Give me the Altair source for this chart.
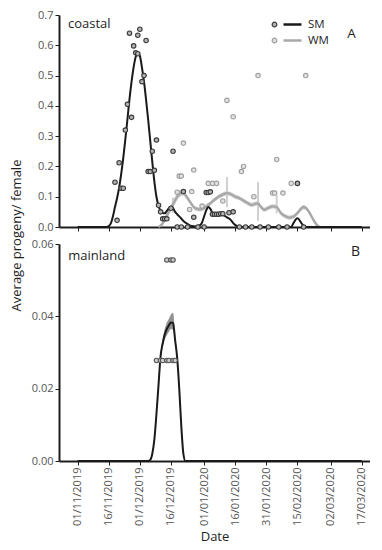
import altair as alt
import pandas as pd

FONT = "Open Sans"

tick_labels = ["01/11/2019", "16/11/2019", "01/12/2019", "16/12/2019", "01/01/2020",
               "16/01/2020", "31/01/2020", "15/02/2020", "02/03/2020", "17/03/2020"]
x_start = "23/10/2019"
x_end = "21/03/2020"

panel_names = ["coastal", "mainland"]
panel_letters = ["A", "B"]
series_names = ["SM", "WM"]
point_series_names = ["SM observed", "WM observed"]
y_title = "Average progeny/ female"
x_title = "Date"
top_y_ticks = [0.0, 0.1, 0.2, 0.3, 0.4, 0.5, 0.6, 0.7]
bottom_y_ticks = [0.0, 0.02, 0.04, 0.06]

# ---- coastal: SM observations
c_sm_dates = ["2019-11-19", "2019-11-20", "2019-11-21", "2019-11-22", "2019-11-23", "2019-11-24",
              "2019-11-25", "2019-11-26", "2019-11-27", "2019-11-28", "2019-11-29", "2019-11-30",
              "2019-11-30", "2019-12-01", "2019-12-02", "2019-12-03", "2019-12-04", "2019-12-05",
              "2019-12-06", "2019-12-07", "2019-12-08", "2019-12-09", "2019-12-10", "2019-12-11",
              "2019-12-12", "2019-12-13", "2019-12-14", "2019-12-16", "2019-12-17", "2019-12-22",
              "2019-12-27", "2020-01-02", "2020-01-03", "2020-01-04", "2020-01-05", "2020-01-06",
              "2020-01-07", "2020-01-08", "2020-01-09", "2020-01-10", "2020-01-13", "2020-01-15",
              "2020-02-15"]
c_sm_vals = [0.148, 0.022, 0.212, 0.128, 0.128, 0.320,
             0.405, 0.640, 0.362, 0.598, 0.575, 0.633,
             0.572, 0.653, 0.480, 0.500, 0.616, 0.183,
             0.183, 0.250, 0.187, 0.287, 0.072, 0.050,
             0.027, 0.027, 0.027, 0.062, 0.250, 0.117,
             0.032, 0.114, 0.114, 0.116, 0.042, 0.042,
             0.042, 0.042, 0.044, 0.044, 0.047, 0.050,
             0.144]
c_sm_zero_dates = ["2019-12-19", "2019-12-21", "2019-12-24", "2019-12-29", "2020-01-01",
                   "2020-01-18", "2020-01-21", "2020-01-24", "2020-01-28", "2020-02-01",
                   "2020-02-06", "2020-02-10", "2020-02-18"]

# ---- coastal: WM observations
c_wm_dates = ["2019-12-19", "2019-12-20", "2019-12-21", "2019-12-22", "2019-12-25", "2019-12-26",
              "2019-12-27", "2019-12-31", "2020-01-03", "2020-01-05", "2020-01-07", "2020-01-10",
              "2020-01-12", "2020-01-15", "2020-01-19", "2020-01-20", "2020-01-25", "2020-01-27",
              "2020-02-03", "2020-02-04", "2020-02-05", "2020-02-08", "2020-02-12", "2020-02-19"]
c_wm_vals = [0.115, 0.168, 0.168, 0.277, 0.058, 0.117,
             0.188, 0.069, 0.144, 0.144, 0.144, 0.086,
             0.418, 0.364, 0.183, 0.200, 0.100, 0.500,
             0.112, 0.112, 0.223, 0.112, 0.144, 0.500]

# ---- coastal: SM fitted curve
c_sm_curve_dates = ["2019-11-01", "2019-11-15", "2019-11-16", "2019-11-17", "2019-11-18", "2019-11-19",
                    "2019-11-20", "2019-11-21", "2019-11-22", "2019-11-23", "2019-11-24", "2019-11-25",
                    "2019-11-26", "2019-11-27", "2019-11-28", "2019-11-29", "2019-11-30", "2019-12-01",
                    "2019-12-02", "2019-12-03", "2019-12-04", "2019-12-05", "2019-12-06", "2019-12-07",
                    "2019-12-08", "2019-12-09", "2019-12-10", "2019-12-11", "2019-12-12", "2019-12-13",
                    "2019-12-14", "2019-12-15", "2019-12-16", "2019-12-17", "2019-12-18", "2019-12-19",
                    "2019-12-21", "2019-12-22", "2019-12-24", "2019-12-26", "2019-12-28", "2019-12-30",
                    "2019-12-31", "2020-01-01", "2020-01-02", "2020-01-03", "2020-01-04", "2020-01-05",
                    "2020-01-06", "2020-01-08", "2020-01-10", "2020-01-12", "2020-01-14", "2020-01-15",
                    "2020-01-17", "2020-01-19", "2020-02-12", "2020-02-13", "2020-02-15", "2020-02-17",
                    "2020-02-19", "2020-03-17"]
c_sm_curve_vals = [0, 0, 0.003, 0.012, 0.035, 0.066,
                   0.095, 0.13, 0.175, 0.228, 0.29, 0.355,
                   0.422, 0.48, 0.528, 0.562, 0.574, 0.565,
                   0.527, 0.48, 0.42, 0.355, 0.285, 0.215,
                   0.15, 0.1, 0.07, 0.053, 0.046, 0.045,
                   0.053, 0.062, 0.067, 0.062, 0.05, 0.042,
                   0.028, 0.02, 0.01, 0.003, 0.002, 0.006,
                   0.015, 0.035, 0.055, 0.066, 0.06, 0.047,
                   0.044, 0.043, 0.04, 0.032, 0.022, 0.013,
                   0.003, 0, 0, 0.012, 0.029, 0.012,
                   0, 0]

# ---- coastal: WM fitted curve and its band
c_wm_curve_dates = ["2019-12-10", "2019-12-12", "2019-12-13", "2019-12-15", "2019-12-17", "2019-12-18",
                    "2019-12-19", "2019-12-21", "2019-12-22", "2019-12-23", "2019-12-24", "2019-12-26",
                    "2019-12-27", "2019-12-29", "2019-12-30", "2020-01-01", "2020-01-02", "2020-01-04",
                    "2020-01-06", "2020-01-08", "2020-01-10", "2020-01-12", "2020-01-14", "2020-01-16",
                    "2020-01-18", "2020-01-20", "2020-01-22", "2020-01-24", "2020-01-26", "2020-01-27",
                    "2020-01-28", "2020-01-30", "2020-02-01", "2020-02-03", "2020-02-05", "2020-02-07",
                    "2020-02-09", "2020-02-11", "2020-02-13", "2020-02-15", "2020-02-17", "2020-02-18",
                    "2020-02-19", "2020-02-21", "2020-02-23", "2020-02-24", "2020-02-25", "2020-02-26"]
c_wm_curve_vals = [0, 0.012, 0.025, 0.05, 0.075, 0.088,
                   0.1, 0.112, 0.112, 0.105, 0.095, 0.075,
                   0.066, 0.059, 0.058, 0.062, 0.068, 0.078,
                   0.09, 0.1, 0.107, 0.112, 0.108, 0.1,
                   0.095, 0.087, 0.079, 0.073, 0.077, 0.078,
                   0.07, 0.057, 0.063, 0.068, 0.066, 0.046,
                   0.036, 0.031, 0.034, 0.046, 0.062, 0.066,
                   0.063, 0.045, 0.02, 0.01, 0.003, 0]
c_wm_band_lo = [0, 0.006, 0.016, 0.04, 0.063, 0.076,
                0.088, 0.102, 0.104, 0.098, 0.088, 0.068,
                0.059, 0.052, 0.051, 0.055, 0.061, 0.071,
                0.083, 0.093, 0.1, 0.105, 0.101, 0.093,
                0.088, 0.08, 0.072, 0.066, 0.07, 0.071,
                0.063, 0.05, 0.056, 0.061, 0.059, 0.039,
                0.029, 0.024, 0.027, 0.039, 0.055, 0.059,
                0.056, 0.038, 0.013, 0.004, 0, 0]
c_wm_band_hi = [0.002, 0.018, 0.034, 0.06, 0.087, 0.1,
                0.112, 0.122, 0.12, 0.112, 0.102, 0.082,
                0.073, 0.066, 0.065, 0.069, 0.075, 0.085,
                0.097, 0.107, 0.114, 0.119, 0.115, 0.107,
                0.102, 0.094, 0.086, 0.08, 0.084, 0.085,
                0.077, 0.064, 0.07, 0.075, 0.073, 0.053,
                0.043, 0.038, 0.041, 0.053, 0.069, 0.073,
                0.07, 0.052, 0.027, 0.017, 0.008, 0.002]
c_wm_spike_dates = ["2019-12-17", "2020-01-12", "2020-01-27", "2020-02-05"]
c_wm_spike_lo = [0.047, 0.065, 0.02, 0.045]
c_wm_spike_hi = [0.097, 0.165, 0.148, 0.105]

# ---- mainland: SM observations, curve, band
m_sm_dates = ["2019-12-14", "2019-12-16", "2019-12-17", "2019-12-09", "2019-12-11",
              "2019-12-12", "2019-12-14", "2019-12-15", "2019-12-17", "2019-12-18"]
m_sm_vals = [0.0556, 0.0556, 0.0556, 0.0278, 0.0278,
             0.0278, 0.0278, 0.0278, 0.0278, 0.0278]
m_sm_curve_dates = ["2019-11-01", "2019-12-05", "2019-12-06", "2019-12-07", "2019-12-08", "2019-12-09",
                    "2019-12-10", "2019-12-11", "2019-12-12", "2019-12-13", "2019-12-14", "2019-12-15",
                    "2019-12-16", "2019-12-17", "2019-12-18", "2019-12-19", "2019-12-20", "2019-12-21",
                    "2019-12-22", "2019-12-23", "2020-03-17"]
m_sm_curve_vals = [0, 0, 0.0003, 0.002, 0.006, 0.013,
                   0.021, 0.029, 0.0325, 0.035, 0.0365, 0.0375,
                   0.0383, 0.0382, 0.0335, 0.0285, 0.02, 0.0095,
                   0.002, 0, 0]
m_band_dates = ["2019-12-11", "2019-12-12", "2019-12-13", "2019-12-14",
                "2019-12-15", "2019-12-16", "2019-12-17", "2019-12-18"]
m_band_lo = [0.028, 0.0313, 0.0335, 0.0348, 0.0357, 0.0365, 0.0362, 0.0325]
m_band_hi = [0.030, 0.0337, 0.0365, 0.0382, 0.0393, 0.0405, 0.041, 0.0345]

# ---------------- tables
pts_top = pd.DataFrame({
    "date": pd.to_datetime(c_sm_dates + c_sm_zero_dates + c_wm_dates),
    "value": c_sm_vals + [0.0] * len(c_sm_zero_dates) + c_wm_vals,
    "series": [point_series_names[0]] * (len(c_sm_dates) + len(c_sm_zero_dates))
              + [point_series_names[1]] * len(c_wm_dates),
})
sm_curve_top = pd.DataFrame({"date": pd.to_datetime(c_sm_curve_dates), "value": c_sm_curve_vals,
                             "curve": series_names[0]})
wm_curve_top = pd.DataFrame({"date": pd.to_datetime(c_wm_curve_dates), "value": c_wm_curve_vals,
                             "curve": series_names[1]})
wm_band_top = pd.DataFrame({"date": pd.to_datetime(c_wm_curve_dates), "lo": c_wm_band_lo, "hi": c_wm_band_hi})
wm_spike_top = pd.DataFrame({"date": pd.to_datetime(c_wm_spike_dates), "lo": c_wm_spike_lo, "hi": c_wm_spike_hi})

pts_bot = pd.DataFrame({"date": pd.to_datetime(m_sm_dates), "value": m_sm_vals})
curve_bot = pd.DataFrame({"date": pd.to_datetime(m_sm_curve_dates), "value": m_sm_curve_vals})
band_bot = pd.DataFrame({"date": pd.to_datetime(m_band_dates), "lo": m_band_lo, "hi": m_band_hi})


def to_dt(s):
    d, m, y = s.split("/")
    return alt.DateTime(year=int(y), month=int(m), date=int(d))


tick_vals = [to_dt(s) for s in tick_labels]
x_scale = alt.Scale(domain=[to_dt(x_start), to_dt(x_end)], nice=False)

top_x_axis = alt.Axis(values=tick_vals, labels=False, title=None, grid=False)
bot_x_axis = alt.Axis(values=tick_vals, format="%d/%m/%Y", labelAngle=270, title=x_title,
                      titlePadding=5, grid=False)
top_y_axis = alt.Axis(values=top_y_ticks, format=".1f", title=y_title, titleX=-42.5, titleY=220,
                      titleAngle=270, titleAlign="center", titleBaseline="middle", grid=False)
bot_y_axis = alt.Axis(values=bottom_y_ticks, format=".2f", title=None, grid=False)

ys_top = alt.Scale(domain=[0, 0.7], nice=False)
ys_bot = alt.Scale(domain=[0, 0.06], nice=False)

xt = alt.X("date:T", scale=x_scale, axis=top_x_axis)
xb = alt.X("date:T", scale=x_scale, axis=bot_x_axis)

line_scale = alt.Scale(domain=series_names, range=["#1a1a1a", "#a8a8a8"])
line_legend = alt.Legend(title=None, orient="none", legendX=223, legendY=-1, symbolType="stroke",
                         symbolSize=324, symbolStrokeWidth=2.5, labelOffset=5, rowPadding=-6,
                         padding=0, labelFontSize=11.5, labelColor="#1e1e1e", labelFont=FONT)
pt_legend = alt.Legend(title=None, orient="none", legendX=210, legendY=4, symbolType="circle",
                       symbolSize=22, symbolStrokeWidth=1.2, labelExpr="''", rowPadding=4,
                       padding=0, labelFontSize=11)
stroke_scale = alt.Scale(domain=point_series_names, range=["#3a3a3a", "#a0a0a0"])
fill_scale = alt.Scale(domain=point_series_names, range=["#b4b4b4", "#e2e2e2"])


def text_layer(txt, x, y, size, align="left"):
    return alt.Chart(pd.DataFrame({"t": [txt]})).mark_text(
        align=align, baseline="alphabetic", font=FONT, fontSize=size, color="#1e1e1e"
    ).encode(text="t:N", x=alt.value(x), y=alt.value(y))


band_t = alt.Chart(wm_band_top).mark_area(color="#cfcfcf", opacity=1, interpolate="monotone").encode(
    x=xt, y=alt.Y("lo:Q", scale=ys_top, axis=top_y_axis), y2="hi:Q")
spike_t = alt.Chart(wm_spike_top).mark_rule(color="#cfcfcf", strokeWidth=2).encode(
    x=xt, y=alt.Y("lo:Q", scale=ys_top, axis=top_y_axis), y2="hi:Q")
wm_line_t = alt.Chart(wm_curve_top).mark_line(strokeWidth=2.3, interpolate="monotone").encode(
    x=xt, y=alt.Y("value:Q", scale=ys_top, axis=top_y_axis),
    color=alt.Color("curve:N", scale=line_scale, legend=line_legend))
sm_line_t = alt.Chart(sm_curve_top).mark_line(strokeWidth=2, interpolate="monotone").encode(
    x=xt, y=alt.Y("value:Q", scale=ys_top, axis=top_y_axis),
    color=alt.Color("curve:N", scale=line_scale, legend=line_legend))
pts_t = alt.Chart(pts_top).mark_point(shape="circle", filled=True, size=20, strokeWidth=1.1, opacity=1).encode(
    x=xt, y=alt.Y("value:Q", scale=ys_top, axis=top_y_axis),
    stroke=alt.Stroke("series:N", scale=stroke_scale, legend=pt_legend),
    fill=alt.Fill("series:N", scale=fill_scale, legend=pt_legend))

top = alt.layer(
    band_t, spike_t, wm_line_t, sm_line_t, pts_t,
    text_layer(panel_names[0], 9, 13.3, 13),
    text_layer(panel_letters[0], 292.5, 23.3, 13.5, "center"),
).properties(width=311, height=212)

band_b = alt.Chart(band_bot).mark_area(color="#777777", opacity=0.8, interpolate="monotone").encode(
    x=xb, y=alt.Y("lo:Q", scale=ys_bot, axis=bot_y_axis), y2="hi:Q")
line_b = alt.Chart(curve_bot).mark_line(strokeWidth=2, interpolate="monotone", color="#1a1a1a").encode(
    x=xb, y=alt.Y("value:Q", scale=ys_bot, axis=bot_y_axis))
pts_b = alt.Chart(pts_bot).mark_point(shape="circle", filled=True, size=20, strokeWidth=1.1, opacity=1,
                                      stroke="#555555", fill="#cccccc").encode(
    x=xb, y=alt.Y("value:Q", scale=ys_bot, axis=bot_y_axis))

bottom = alt.layer(
    band_b, line_b, pts_b,
    text_layer(panel_names[1], 9.3, 15.7, 13),
    text_layer(panel_letters[1], 296.5, 12, 14, "center"),
).properties(width=311, height=217)

chart = alt.vconcat(top, bottom, spacing=17, bounds="flush").properties(
    padding={"left": 2, "top": 1, "right": 0, "bottom": 0}
).configure_view(
    stroke=None
).configure_axis(
    labelFont=FONT, labelFontSize=11, labelColor="#555555",
    titleFont=FONT, titleFontSize=13, titleColor="#1e1e1e", titleFontWeight="normal",
    domainColor="#1e1e1e", domainWidth=2, tickColor="#1e1e1e", tickSize=4, tickWidth=1, grid=False
).configure_legend(labelFont=FONT)

chart.save("out.html", embed_options={"renderer": "svg", "actions": False})
